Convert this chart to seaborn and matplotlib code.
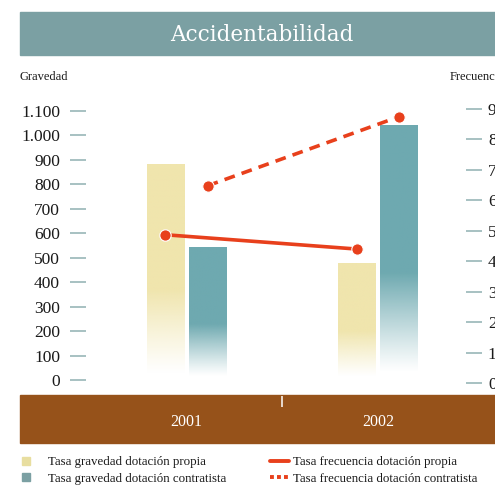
import numpy as np
import pandas as pd
import matplotlib
matplotlib.use("Agg")
import matplotlib.pyplot as plt
from matplotlib.patches import Rectangle
from matplotlib.lines import Line2D
import seaborn as sns

# ---- data -------------------------------------------------------------
years = ["2001", "2002"]
dotaciones = ["propia", "contratista"]
tasa_gravedad_propia = [880, 475]
tasa_gravedad_contratista = [540, 1040]
tasa_frecuencia_propia = [4.87, 4.40]
tasa_frecuencia_contratista = [6.48, 8.75]

gravedad_ticks = [0, 100, 200, 300, 400, 500, 600, 700, 800, 900, 1000, 1100]
gravedad_tick_labels = ["0", "100", "200", "300", "400", "500", "600",
                        "700", "800", "900", "1.000", "1.100"]
frecuencia_ticks = [0, 1, 2, 3, 4, 5, 6, 7, 8, 9]
frecuencia_tick_labels = ["0", "1", "2", "3", "4", "5", "6", "7", "8", "9"]

legend_bar_labels = ["Tasa gravedad dotación propia",
                     "Tasa gravedad dotación contratista"]
legend_line_labels = ["Tasa frecuencia dotación propia",
                      "Tasa frecuencia dotación contratista"]

gravedad = pd.DataFrame({
    "year": years * 2,
    "dotacion": ["propia"] * 2 + ["contratista"] * 2,
    "valor": tasa_gravedad_propia + tasa_gravedad_contratista,
})
frecuencia = pd.DataFrame({
    "year": years * 2,
    "dotacion": ["propia"] * 2 + ["contratista"] * 2,
    "valor": tasa_frecuencia_propia + tasa_frecuencia_contratista,
})

# ---- style ------------------------------------------------------------
YELLOW = "#f0e5ad"
TEAL = "#6ea9b0"
BAND_TEAL = "#7ba0a3"
TICK_TEAL = "#8fb0b2"
BROWN = "#96521a"
RED = "#e8401c"
TEXT = "#1a1a1a"

sns.set_style("white")
plt.rcParams["font.family"] = ["Liberation Serif", "DejaVu Serif"]

W, H = 495, 490
fig = plt.figure(figsize=(W / 100, H / 100), dpi=100)
fig.patch.set_facecolor("white")


def fx(px):
    return px / W


def fy(py):
    return 1 - py / H


# header band and title
fig.patches.append(Rectangle((fx(20), fy(55)), fx(475), 43 / H,
                             transform=fig.transFigure, color=BAND_TEAL,
                             zorder=-1))
fig.text(fx(262), fy(35), "Accidentabilidad", color="white", fontsize=15.5,
         ha="center", va="center", family=["DejaVu Serif"])

# bottom category band
fig.patches.append(Rectangle((fx(20), fy(443)), fx(475), 48 / H,
                             transform=fig.transFigure, color=BROWN,
                             zorder=-1))

fig.text(fx(20), fy(77), "Gravedad", color=TEXT, fontsize=9, ha="left",
         va="center")
fig.text(fx(450), fy(77), "Frecuencia", color=TEXT, fontsize=9, ha="left",
         va="center")

# ---- main axes (gravedad, bars) ---------------------------------------
ax_left, ax_right, ax_top, ax_bottom = 86, 466, 100, 396
ax = fig.add_axes([fx(ax_left), fy(ax_bottom), (ax_right - ax_left) / W,
                   (ax_bottom - ax_top) / H])
ax.set_facecolor("none")

sns.barplot(data=gravedad, x="year", y="valor", hue="dotacion",
            hue_order=dotaciones, palette=[YELLOW, TEAL], saturation=1,
            width=0.44, gap=0.1, linewidth=0, legend=False, ax=ax)

# replace flat fills with a fill that fades out towards the baseline
n = 256
t = np.linspace(0, 1, n)
alpha = np.clip((t - 0.03) / (0.42 - 0.03), 0, 1) ** 1.1
for bar in list(ax.patches):
    x0, w, h = bar.get_x(), bar.get_width(), bar.get_height()
    rgb = np.array(bar.get_facecolor()[:3])
    img = np.ones((n, 1, 4))
    img[:, 0, :3] = rgb
    img[:, 0, 3] = alpha
    ax.imshow(img, extent=(x0, x0 + w, 0, h), origin="lower",
              aspect="auto", interpolation="bilinear", zorder=2)
    bar.set_visible(False)

xlim = (-0.525, 1.4595)
ax.set_xlim(*xlim)
ax.set_ylim(-65.3, 1142.9)
ax.set_yticks(gravedad_ticks, gravedad_tick_labels)
ax.set_xlabel("")
ax.set_ylabel("")
ax.grid(False)
for s in ax.spines.values():
    s.set_visible(False)

ax.tick_params(axis="y", which="major", length=11.5, width=1.1,
               color=TICK_TEAL, pad=7.2, labelsize=12.5, labelcolor=TEXT,
               left=True)
ax.tick_params(axis="x", which="major", length=0, pad=13,
               labelsize=11.5, labelcolor="white")
ax.set_xticks([0.5], minor=True)
ax.tick_params(axis="x", which="minor", length=8, width=1.1,
               color="white", direction="out", bottom=True)

# ---- twin axes (frecuencia, lines) ------------------------------------
ax2 = ax.twinx()
sns.pointplot(data=frecuencia, x="year", y="valor", hue="dotacion",
              hue_order=dotaciones, palette={"propia": RED, "contratista": RED},
              dodge=0.22, markers=["o", "o"], linestyles=["-", (0, (3, 2))],
              errorbar=None, legend=False, ax=ax2,
              markersize=8.2, linewidth=2.6, markeredgecolor="white",
              markeredgewidth=0.8)
ax2.set_ylim(-0.427, 9.297)
ax2.set_yticks(frecuencia_ticks, frecuencia_tick_labels)
ax2.set_xlabel("")
ax2.set_ylabel("")
ax2.grid(False)
for s in ax2.spines.values():
    s.set_visible(False)
ax2.tick_params(axis="y", length=11.5, width=1.1, color=TICK_TEAL,
                pad=4.3, labelsize=12.5, labelcolor=TEXT, right=True)
ax.set_xlim(*xlim)

# ---- legends ----------------------------------------------------------
bar_handles = [Line2D([], [], linestyle="none", marker="s", markersize=6,
                      color=c) for c in ["#e8dea0", BAND_TEAL]]
fig.legend(bar_handles, legend_bar_labels, loc="upper left",
           bbox_to_anchor=(fx(20), fy(456)), frameon=False,
           borderpad=0, borderaxespad=0, handlelength=0.9,
           handletextpad=1.3, labelspacing=0.35, fontsize=9.3,
           labelcolor=TEXT)
line_handles = [Line2D([], [], color=RED, linewidth=2.8),
                Line2D([], [], color=RED, linewidth=2.8,
                       linestyle=(0, (1, 0.8)))]
fig.legend(line_handles, legend_line_labels, loc="upper left",
           bbox_to_anchor=(fx(270), fy(456)), frameon=False,
           borderpad=0, borderaxespad=0, handlelength=1.45,
           handletextpad=0.3, labelspacing=0.35, fontsize=9.3,
           labelcolor=TEXT)

fig.savefig("out.png", dpi=100)
